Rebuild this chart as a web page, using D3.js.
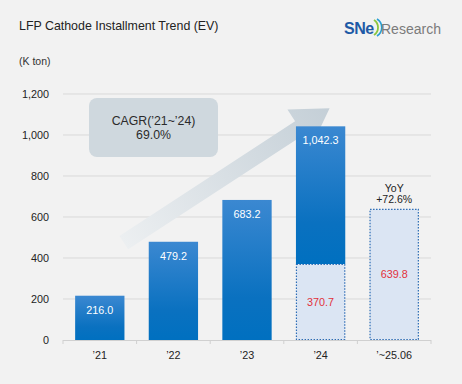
<!DOCTYPE html>
<html>
<head>
    <meta charset="UTF-8">
    <title>LFP Cathode Installment Trend (EV)</title>
    <script src="https://d3js.org/d3.v7.min.js"></script>
    <style>
        body { margin: 0; background: #f2f2f2; }
        svg { display: block; font-family: "Liberation Sans", Arial, sans-serif; }
    </style>
</head>
<body>
<div id="chart"></div>
<script>
    // data
    var categories = ["\u201921", "\u201922", "\u201923", "\u201924", "\u2019~25.06"];
    var totals = [216.0, 479.2, 683.2, 1042.3, null];      // full year
    var firstHalf = [null, null, null, 370.7, 639.8];       // H1 (dotted)
    var yTicks = [0, 200, 400, 600, 800, 1000, 1200];

    var width = 462, height = 384;

    var svg = d3.select("#chart").append("svg")
        .attr("width", width)
        .attr("height", height);

    svg.append("rect").attr("width", width).attr("height", height).attr("fill", "#f2f2f2");

    // scales
    var x = d3.scaleBand()
        .domain(categories)
        .range([63, 431])
        .paddingInner(0.33)
        .paddingOuter(0.165);

    var y = d3.scaleLinear()
        .domain([0, 1200])
        .range([340, 94]);

    var defs = svg.append("defs");
    var grad = defs.append("linearGradient")
        .attr("id", "barGrad")
        .attr("x1", 0).attr("y1", 0).attr("x2", 0).attr("y2", 1);
    grad.append("stop").attr("offset", "0%").attr("stop-color", "#3b88d1");
    grad.append("stop").attr("offset", "70%").attr("stop-color", "#0a71c0");
    grad.append("stop").attr("offset", "100%").attr("stop-color", "#0070c0");

    // title + unit
    svg.append("text")
        .attr("x", 19).attr("y", 30)
        .attr("font-size", "12.4px")
        .attr("fill", "#222")
        .text("LFP Cathode Installment Trend (EV)");

    svg.append("text")
        .attr("x", 19).attr("y", 65)
        .attr("font-size", "10.5px")
        .attr("fill", "#333")
        .text("(K ton)");

    // logo
    var logo = svg.append("g").attr("transform", "translate(344,34)");
    logo.append("text")
        .attr("font-size", "16px").attr("font-weight", "bold")
        .attr("fill", "#1e5aa6")
        .attr("letter-spacing", "-0.5px")
        .text("SNe");
    logo.append("path")
        .attr("d", "M30,-14 A9,9 0 0 1 30,1")
        .attr("fill", "none").attr("stroke", "#8cc63f").attr("stroke-width", 1.8);
    logo.append("path")
        .attr("d", "M33,-15 A10,10 0 0 1 33,2")
        .attr("fill", "none").attr("stroke", "#2a9fd6").attr("stroke-width", 1.6);
    logo.append("text")
        .attr("x", 37)
        .attr("font-size", "14px")
        .attr("fill", "#7b7b7b")
        .text("Research");

    // gridlines
    svg.append("g").selectAll("line")
        .data(yTicks.slice(1))
        .enter().append("line")
        .attr("x1", 63).attr("x2", 431)
        .attr("y1", function(d) { return y(d); })
        .attr("y2", function(d) { return y(d); })
        .attr("stroke", "#d9d9d9").attr("stroke-width", 1);

    // y axis labels
    svg.append("g").selectAll("text")
        .data(yTicks)
        .enter().append("text")
        .attr("x", 49)
        .attr("y", function(d) { return y(d) + 4; })
        .attr("text-anchor", "end")
        .attr("font-size", "10.8px")
        .attr("fill", "#222")
        .text(d3.format(","));

    // big growth arrow (annotation, behind the bars)
    var tail = [x(categories[0]) + x.bandwidth() / 2 + 24, y(475)];
    var tip = [x(categories[3]) + x.bandwidth() / 2 + 9, y(1130)];
    var dx = tip[0] - tail[0], dy = tip[1] - tail[1];
    var len = Math.sqrt(dx * dx + dy * dy);
    var ang = Math.atan2(dy, dx) * 180 / Math.PI;
    var aGrad = defs.append("linearGradient")
        .attr("id", "arrowGrad")
        .attr("gradientUnits", "userSpaceOnUse")
        .attr("x1", 0).attr("y1", 0).attr("x2", len).attr("y2", 0);
    aGrad.append("stop").attr("offset", "0%").attr("stop-color", "#eceff1");
    aGrad.append("stop").attr("offset", "100%").attr("stop-color", "#c4cfd7");
    var sw = 8, hw = 22, hl = 36;
    svg.append("path")
        .attr("transform", "translate(" + tail[0] + "," + tail[1] + ") rotate(" + ang + ")")
        .attr("d", d3.line()([[0, -sw], [len - hl, -sw], [len - hl, -hw], [len, 0],
                              [len - hl, hw], [len - hl, sw], [0, sw]]) + "Z")
        .attr("fill", "url(#arrowGrad)");

    // CAGR box
    svg.append("rect")
        .attr("x", 89).attr("y", 98)
        .attr("width", 129).attr("height", 59)
        .attr("rx", 8)
        .attr("fill", "#cfd8de");
    svg.append("text")
        .attr("x", 153.5).attr("y", 125)
        .attr("text-anchor", "middle")
        .attr("font-size", "12.3px").attr("fill", "#2b2b2b")
        .text("CAGR(\u201921~\u201924)");
    svg.append("text")
        .attr("x", 153.5).attr("y", 139)
        .attr("text-anchor", "middle")
        .attr("font-size", "12.3px").attr("fill", "#2b2b2b")
        .text("69.0%");

    // x axis line + ticks
    svg.append("line")
        .attr("x1", 63).attr("x2", 431)
        .attr("y1", 340.5).attr("y2", 340.5)
        .attr("stroke", "#d0d0d0");
    var bounds = categories.map(function(c) { return x(c) - x.step() * x.paddingInner() / 2; });
    bounds.push(x(categories[categories.length - 1]) + x.bandwidth() + x.step() * x.paddingInner() / 2);
    svg.append("g").selectAll("line")
        .data(bounds)
        .enter().append("line")
        .attr("x1", function(d) { return d; }).attr("x2", function(d) { return d; })
        .attr("y1", 340).attr("y2", 344)
        .attr("stroke", "#d0d0d0");

    // x labels
    svg.append("g").selectAll("text")
        .data(categories)
        .enter().append("text")
        .attr("x", function(d) { return x(d) + x.bandwidth() / 2; })
        .attr("y", 359)
        .attr("text-anchor", "middle")
        .attr("font-size", "10.8px")
        .attr("fill", "#222")
        .text(function(d) { return d; });

    var rows = categories.map(function(c, i) {
        return { cat: c, total: totals[i], half: firstHalf[i] };
    });

    // full-year bars
    svg.append("g").selectAll("rect")
        .data(rows.filter(function(d) { return d.total != null; }))
        .enter().append("rect")
        .attr("x", function(d) { return x(d.cat); })
        .attr("width", x.bandwidth())
        .attr("y", function(d) { return y(d.total); })
        .attr("height", function(d) { return y(d.half != null ? d.half : 0) - y(d.total); })
        .attr("fill", "url(#barGrad)");

    // H1 dotted bars
    svg.append("g").selectAll("rect")
        .data(rows.filter(function(d) { return d.half != null; }))
        .enter().append("rect")
        .attr("x", function(d) { return x(d.cat) + 0.5; })
        .attr("width", x.bandwidth() - 1)
        .attr("y", function(d) { return y(d.half) + 0.5; })
        .attr("height", function(d) { return y(0) - y(d.half) - 1; })
        .attr("fill", "#dbe5f3")
        .attr("stroke", "#2c6cb5")
        .attr("stroke-width", 1.2)
        .attr("stroke-dasharray", "1.5,1.5");

    // value labels
    svg.append("g").selectAll("text")
        .data(rows.filter(function(d) { return d.total != null; }))
        .enter().append("text")
        .attr("x", function(d) { return x(d.cat) + x.bandwidth() / 2; })
        .attr("y", function(d) { return y(d.total) + 18; })
        .attr("text-anchor", "middle")
        .attr("font-size", "10.8px")
        .attr("fill", "#fff")
        .text(function(d) { return d3.format(",.1f")(d.total); });

    svg.append("g").selectAll("text")
        .data(rows.filter(function(d) { return d.half != null; }))
        .enter().append("text")
        .attr("x", function(d) { return x(d.cat) + x.bandwidth() / 2; })
        .attr("y", function(d) { return (y(d.half) + y(0)) / 2 + 4; })
        .attr("text-anchor", "middle")
        .attr("font-size", "10.8px")
        .attr("fill", "#e2313b")
        .text(function(d) { return d3.format(",.1f")(d.half); });

    // YoY note above last bar
    var last = rows[rows.length - 1];
    var yoy = (last.half / rows[3].half - 1) * 100;
    var lx = x(last.cat) + x.bandwidth() / 2;
    svg.append("text")
        .attr("x", lx).attr("y", y(last.half) - 17)
        .attr("text-anchor", "middle")
        .attr("font-size", "10.5px").attr("fill", "#222")
        .text("YoY");
    svg.append("text")
        .attr("x", lx).attr("y", y(last.half) - 6)
        .attr("text-anchor", "middle")
        .attr("font-size", "10.5px").attr("fill", "#222")
        .text("+" + yoy.toFixed(1) + "%");
</script>
</body>
</html>
